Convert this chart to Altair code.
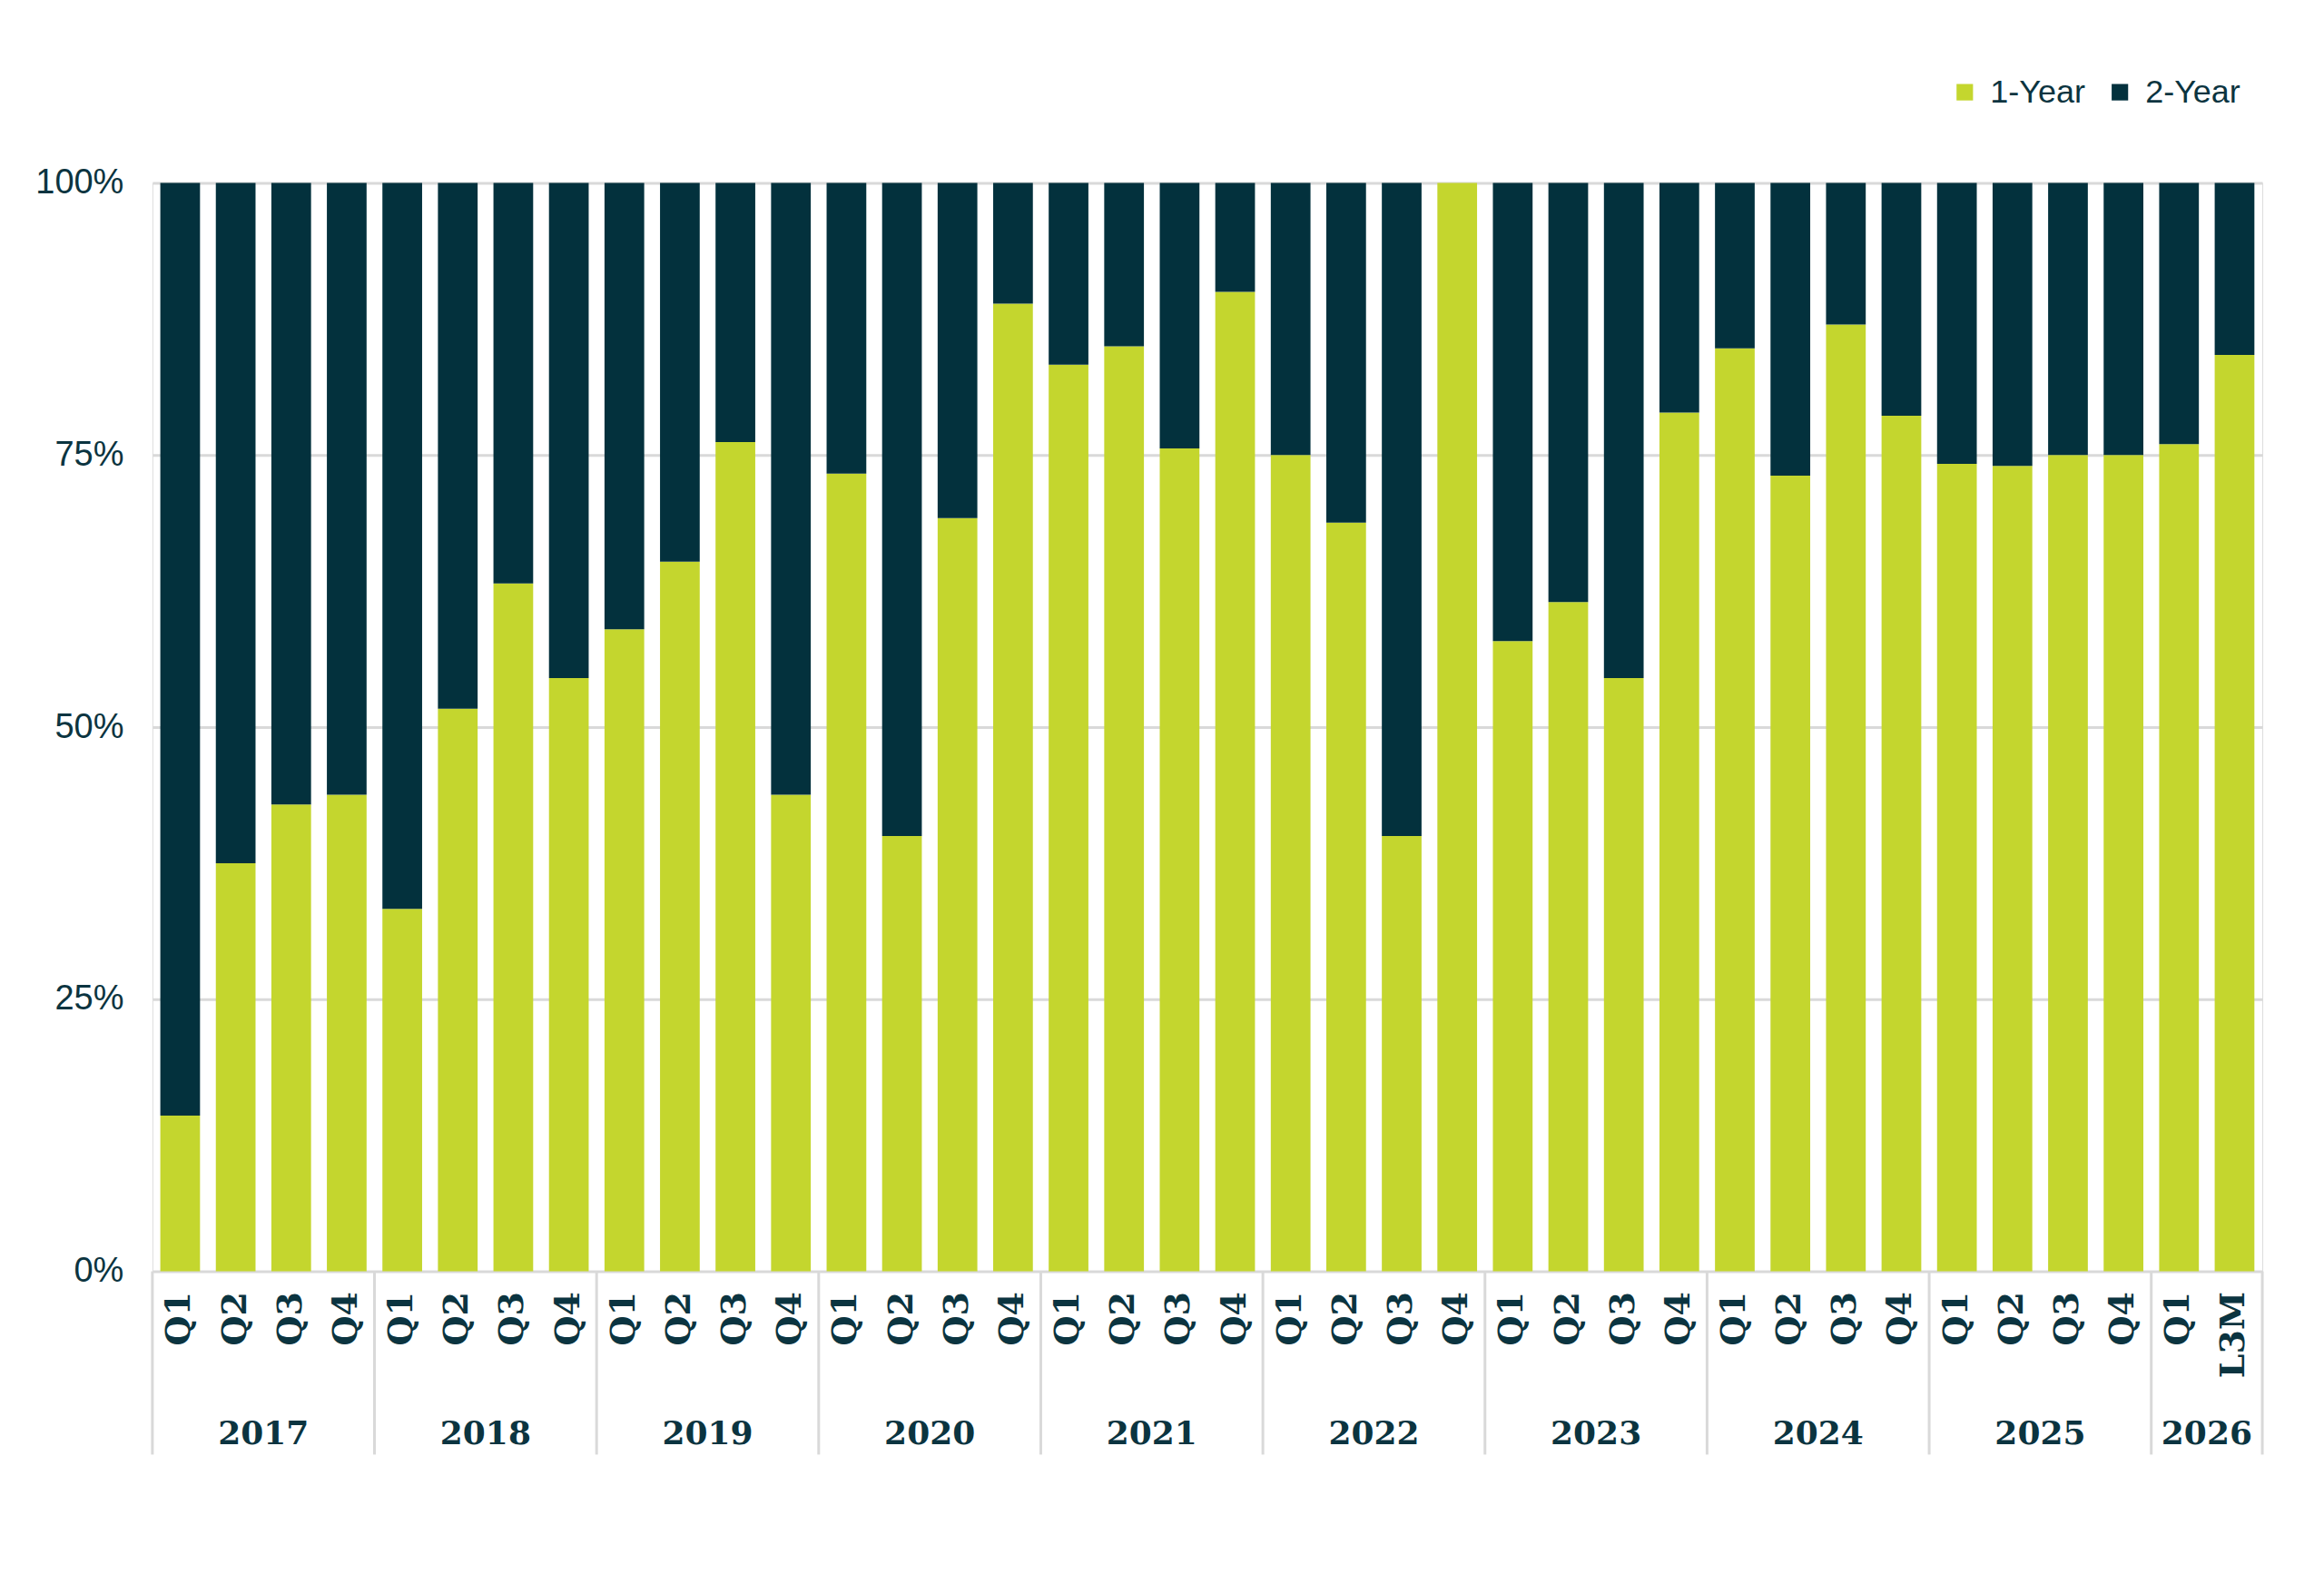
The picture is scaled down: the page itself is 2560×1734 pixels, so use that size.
import altair as alt
import pandas as pd

# ---- data ----
bar_years = (["2017"] * 4 + ["2018"] * 4 + ["2019"] * 4 + ["2020"] * 4 + ["2021"] * 4 +
             ["2022"] * 4 + ["2023"] * 4 + ["2024"] * 4 + ["2025"] * 4 + ["2026"] * 2)
bar_quarters = ["Q1", "Q2", "Q3", "Q4"] * 9 + ["Q1", "L3M"]
one_year = [14.3, 37.5, 42.9, 43.8,
            33.3, 51.7, 63.2, 54.5,
            59.0, 65.2, 76.2, 43.8,
            73.3, 40.0, 69.2, 88.9,
            83.3, 85.0, 75.6, 90.0,
            75.0, 68.8, 40.0, 100.0,
            57.9, 61.5, 54.5, 78.9,
            84.8, 73.1, 87.0, 78.6,
            74.2, 74.0, 75.0, 75.0,
            76.0, 84.2]
two_year = [round(100 - v, 1) for v in one_year]
series = ["1-Year", "2-Year"]
colors = ["#C4D62E", "#03313D"]
text_color = "#0B3440"

keys = [f"{y}|{q}" for y, q in zip(bar_years, bar_quarters)]
rows = []
for k, y, q, a, b in zip(keys, bar_years, bar_quarters, one_year, two_year):
    rows.append({"key": k, "year": y, "q": q, "series": "1-Year", "ord": 0, "val": a})
    rows.append({"key": k, "year": y, "q": q, "series": "2-Year", "ord": 1, "val": b})
df = pd.DataFrame(rows)

# year groups: first key, middle key (for label), last key
year_list = list(dict.fromkeys(bar_years))
grp = []
for y in year_list:
    ks = [k for k, yy in zip(keys, bar_years) if yy == y]
    n = len(ks)
    mid = ks[n // 2 - 1]
    grp.append({"year": y, "first": ks[0], "mid": mid, "last": ks[-1]})
gdf = pd.DataFrame(grp)

W, H = 2326, 1200

xscale = alt.Scale(domain=keys, paddingInner=0, paddingOuter=0)

bars = alt.Chart(df).mark_bar(width=alt.RelativeBandSize(0.715)).encode(
    x=alt.X("key:N", scale=xscale, sort=keys, title=None,
            axis=alt.Axis(labelExpr="split(datum.value, '|')[1]", labelAngle=-90,
                          labelFont="DejaVu Serif", labelFontWeight="bold",
                          labelFontSize=38, labelColor=text_color, labelPadding=22,
                          domain=False, ticks=False, grid=False)),
    y=alt.Y("val:Q", stack="normalize", title=None,
            scale=alt.Scale(domain=[0, 1]),
            axis=alt.Axis(values=[0, 0.25, 0.5, 0.75, 1], format=".0%",
                          labelFont="Liberation Sans", labelFontSize=38,
                          labelColor=text_color, labelPadding=32,
                          domain=False, ticks=False,
                          gridColor="#D9D9D9", gridWidth=3)),
    color=alt.Color("series:N", scale=alt.Scale(domain=series, range=colors),
                    legend=alt.Legend(title=None, orient="none", legendX=1980, legendY=-118,
                                      direction="horizontal", symbolType="square",
                                      symbolSize=330, symbolStrokeWidth=0,
                                      labelFont="Liberation Sans", labelFontSize=36,
                                      labelColor=text_color, labelOffset=10,
                                      columnPadding=20)),
    order=alt.Order("ord:Q", sort="ascending"),
)

sep_left = alt.Chart(gdf).mark_rule(color="#D9D9D9", strokeWidth=3).encode(
    x=alt.X("first:N", scale=xscale, sort=keys, bandPosition=0),
    y=alt.value(H), y2=alt.value(H + 202),
)
sep_right = alt.Chart(gdf.tail(1)).mark_rule(color="#D9D9D9", strokeWidth=3).encode(
    x=alt.X("last:N", scale=xscale, sort=keys, bandPosition=1),
    y=alt.value(H), y2=alt.value(H + 202),
)
year_text = alt.Chart(gdf).mark_text(font="DejaVu Serif", fontWeight="bold", fontSize=36,
                                     color=text_color, baseline="alphabetic").encode(
    x=alt.X("mid:N", scale=xscale, sort=keys, bandPosition=1),
    y=alt.value(H + 191),
    text="year:N",
)

chart = alt.layer(bars, sep_left, sep_right, year_text).properties(
    width=W, height=H,
    autosize=alt.AutoSizeParams(type="none"),
    padding={"left": 160, "top": 193, "right": 60, "bottom": 320},
).configure_view(strokeWidth=0, stroke="transparent").configure(background="white")

chart.save("out.html", embed_options={"renderer": "svg", "actions": False})
